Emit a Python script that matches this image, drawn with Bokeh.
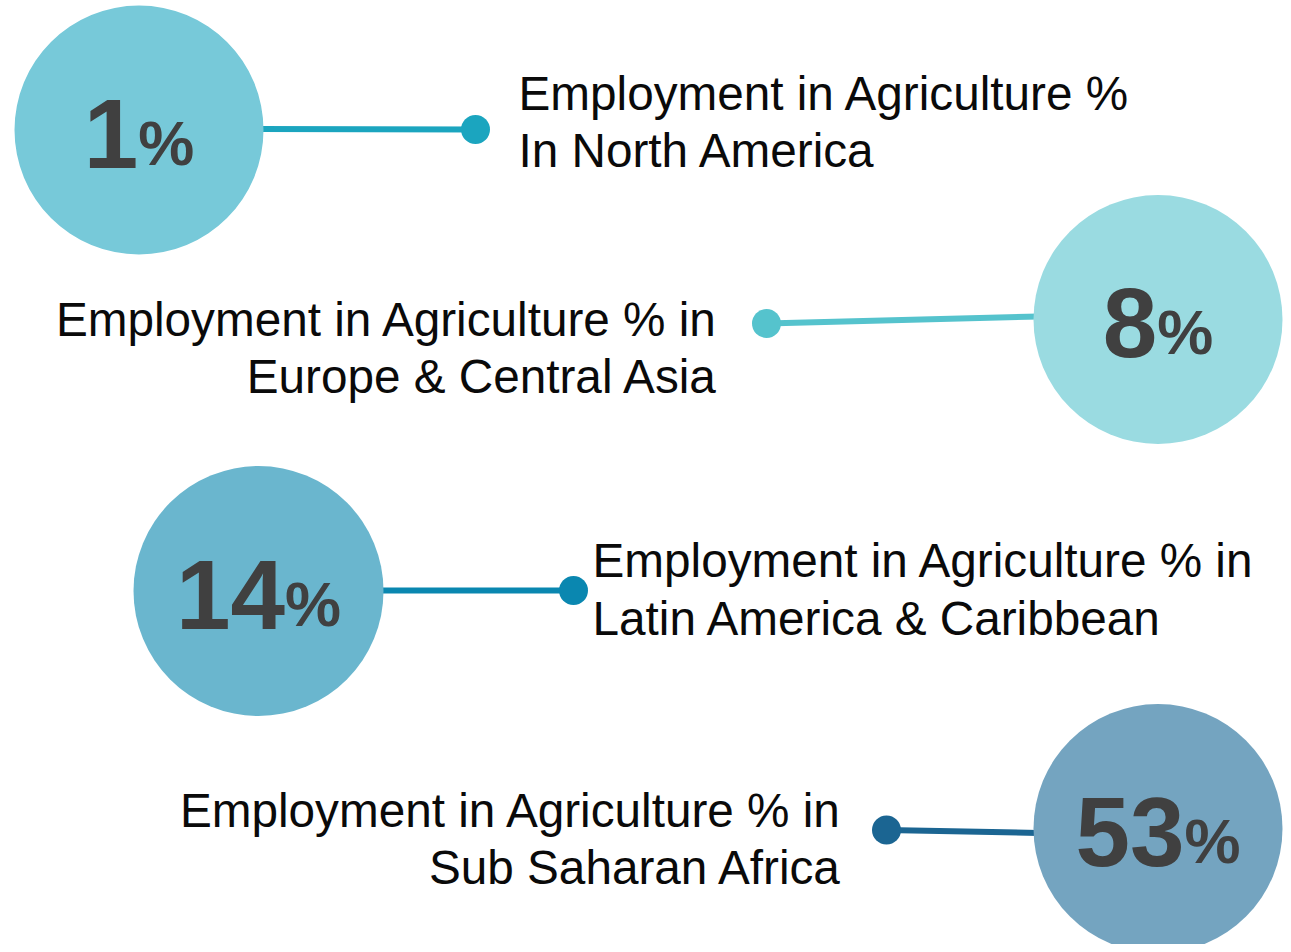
from bokeh.plotting import figure
from bokeh.models import Range1d, ColumnDataSource
from bokeh.core.properties import value
from bokeh.embed import file_html
from bokeh.resources import INLINE

# ---- data ----
regions = ["North America", "Europe & Central Asia", "Latin America & Caribbean", "Sub Saharan Africa"]
values = [1, 8, 14, 53]
label_line1 = ["Employment in Agriculture %", "Employment in Agriculture % in",
               "Employment in Agriculture % in", "Employment in Agriculture % in"]
label_line2 = ["In North America", "Europe & Central Asia", "Latin America & Caribbean", "Sub Saharan Africa"]

# ---- layout (pixel coordinates) ----
W, H = 1283, 944
circle_x = [138.5, 1157.5, 258, 1157.5]
circle_y = [129.5, 319, 590.5, 828]
circle_r = [124.5, 124.5, 125, 124.5]
dot_x = [475, 766, 573, 886]
dot_y = [129, 323, 590, 829.5]
line_end_y = [128.5, 316, 590, 832.5]
label_x = [518, 718, 592, 842]
label_align = ["left", "right", "left", "right"]
label_base1 = [111, 337, 578, 828]
label_base2 = [168, 394, 636, 885]

circle_colors = ["#77C9D9", "#9ADBE1", "#6AB6CE", "#74A4C0"]
line_colors = ["#1BA5BF", "#55C3CD", "#0A87B0", "#1B6592"]

NUM_PX = 98
PCT_PX = 63
LABEL_PX = 47.7
# empirical baseline shifts of the svg text renderer
NUM_SHIFT = 33.5
PCT_SHIFT = 24.5
LABEL_SHIFT = 17.7

p = figure(width=W, height=H, output_backend="svg", toolbar_location=None,
           x_range=Range1d(0, W), y_range=Range1d(H, 0), min_border=0)
p.axis.visible = False
p.grid.visible = False
p.outline_line_color = None
p.background_fill_color = "white"

# connector lines (drawn under circles)
x0, x1 = [], []
for i in range(4):
    side = 1 if dot_x[i] > circle_x[i] else -1
    x0.append(circle_x[i] + side * (circle_r[i] - 5))
    x1.append(dot_x[i])
p.segment(x0=x0, y0=line_end_y, x1=x1, y1=dot_y, line_color=line_colors, line_width=6)

p.circle(x=circle_x, y=circle_y, radius=circle_r, fill_color=circle_colors, line_color=None)
p.scatter(x=dot_x, y=dot_y, size=29, fill_color=line_colors, line_color=None)

# big numbers: digits right-aligned at split, % left-aligned
num_txt, pct_txt, split_x, num_y, pct_y = [], [], [], [], []
for i, v in enumerate(values):
    s = str(v)
    wn = len(s) * 0.556 * NUM_PX
    wp = 0.889 * PCT_PX
    split = circle_x[i] - (wn + wp) / 2 + wn
    num_txt.append(s)
    pct_txt.append("%")
    split_x.append(split)
    num_y.append(circle_y[i] + 37 - NUM_SHIFT)
    pct_y.append(circle_y[i] + 37 - PCT_SHIFT)

p.text(x=split_x, y=num_y, text=num_txt, text_font=value("Liberation Sans"),
       text_font_style="bold", text_font_size=f"{NUM_PX}px", text_color="#404040",
       text_align="right", text_baseline="alphabetic")
p.text(x=split_x, y=pct_y, text=pct_txt, text_font=value("Liberation Sans"),
       text_font_style="bold", text_font_size=f"{PCT_PX}px", text_color="#404040",
       text_align="left", text_baseline="alphabetic")

# labels
for i in range(4):
    src = ColumnDataSource(dict(x=[label_x[i], label_x[i]],
                                y=[label_base1[i] - LABEL_SHIFT, label_base2[i] - LABEL_SHIFT],
                                t=[label_line1[i], label_line2[i]]))
    p.text(x="x", y="y", text="t", source=src, text_font=value("Liberation Sans"),
           text_font_size=f"{LABEL_PX}px", text_color="#0a0a0a",
           text_align=label_align[i], text_baseline="alphabetic")

open("out.html", "w").write(file_html(p, INLINE))
